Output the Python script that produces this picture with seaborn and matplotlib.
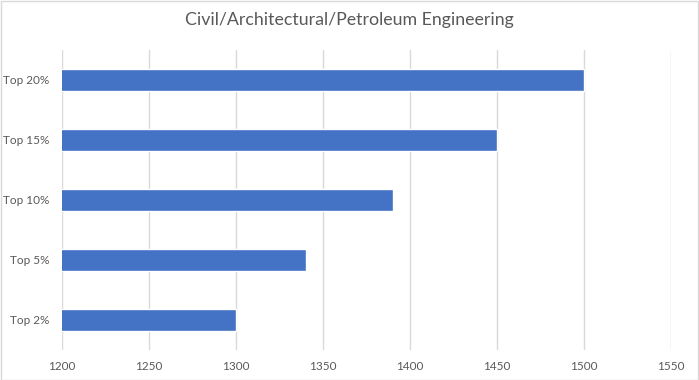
import pandas as pd
import matplotlib.pyplot as plt
import seaborn as sns
from matplotlib.patches import Rectangle

# Dados
categories = ['Top 20%', 'Top 15%', 'Top 10%', 'Top 5%', 'Top 2%']
scores = [1500, 1450, 1390, 1340, 1300]
x_ticks = [1200, 1250, 1300, 1350, 1400, 1450, 1500, 1550]

df = pd.DataFrame({'category': categories, 'score': scores})

sns.set_style('white')
plt.rcParams['font.family'] = ['Lato', 'DejaVu Sans']

fig = plt.figure(figsize=(6.99, 3.80), dpi=100)
ax = fig.add_axes([62 / 699, 30 / 380, 609 / 699, 300 / 380])

sns.barplot(data=df, x='score', y='category', order=categories, color='#4472C4',
            saturation=1, width=0.38, orient='h', ax=ax, zorder=3)

ax.set_xlim(1200, 1550)
ax.set_xticks(x_ticks)
ax.xaxis.grid(True, color='#d9d9d9', linewidth=1, zorder=0)
ax.set_axisbelow(True)
for s in ax.spines.values():
    s.set_visible(False)
ax.set_xlabel('')
ax.set_ylabel('')
ax.tick_params(axis='both', length=0, labelsize=8.5, labelcolor='#595959')
ax.tick_params(axis='x', pad=8)
ax.tick_params(axis='y', pad=9)

fig.text(0.5, 1 - 20 / 380, 'Civil/Architectural/Petroleum Engineering', ha='center', va='center',
         fontsize=12.8, color='#595959')

fig.patches.append(Rectangle((0.5 / 699, 0.5 / 380), 697.5 / 699, 378.5 / 380, transform=fig.transFigure,
                             fill=False, edgecolor='#d9d9d9', linewidth=1))

plt.savefig('out.png', dpi=100)
plt.close()
